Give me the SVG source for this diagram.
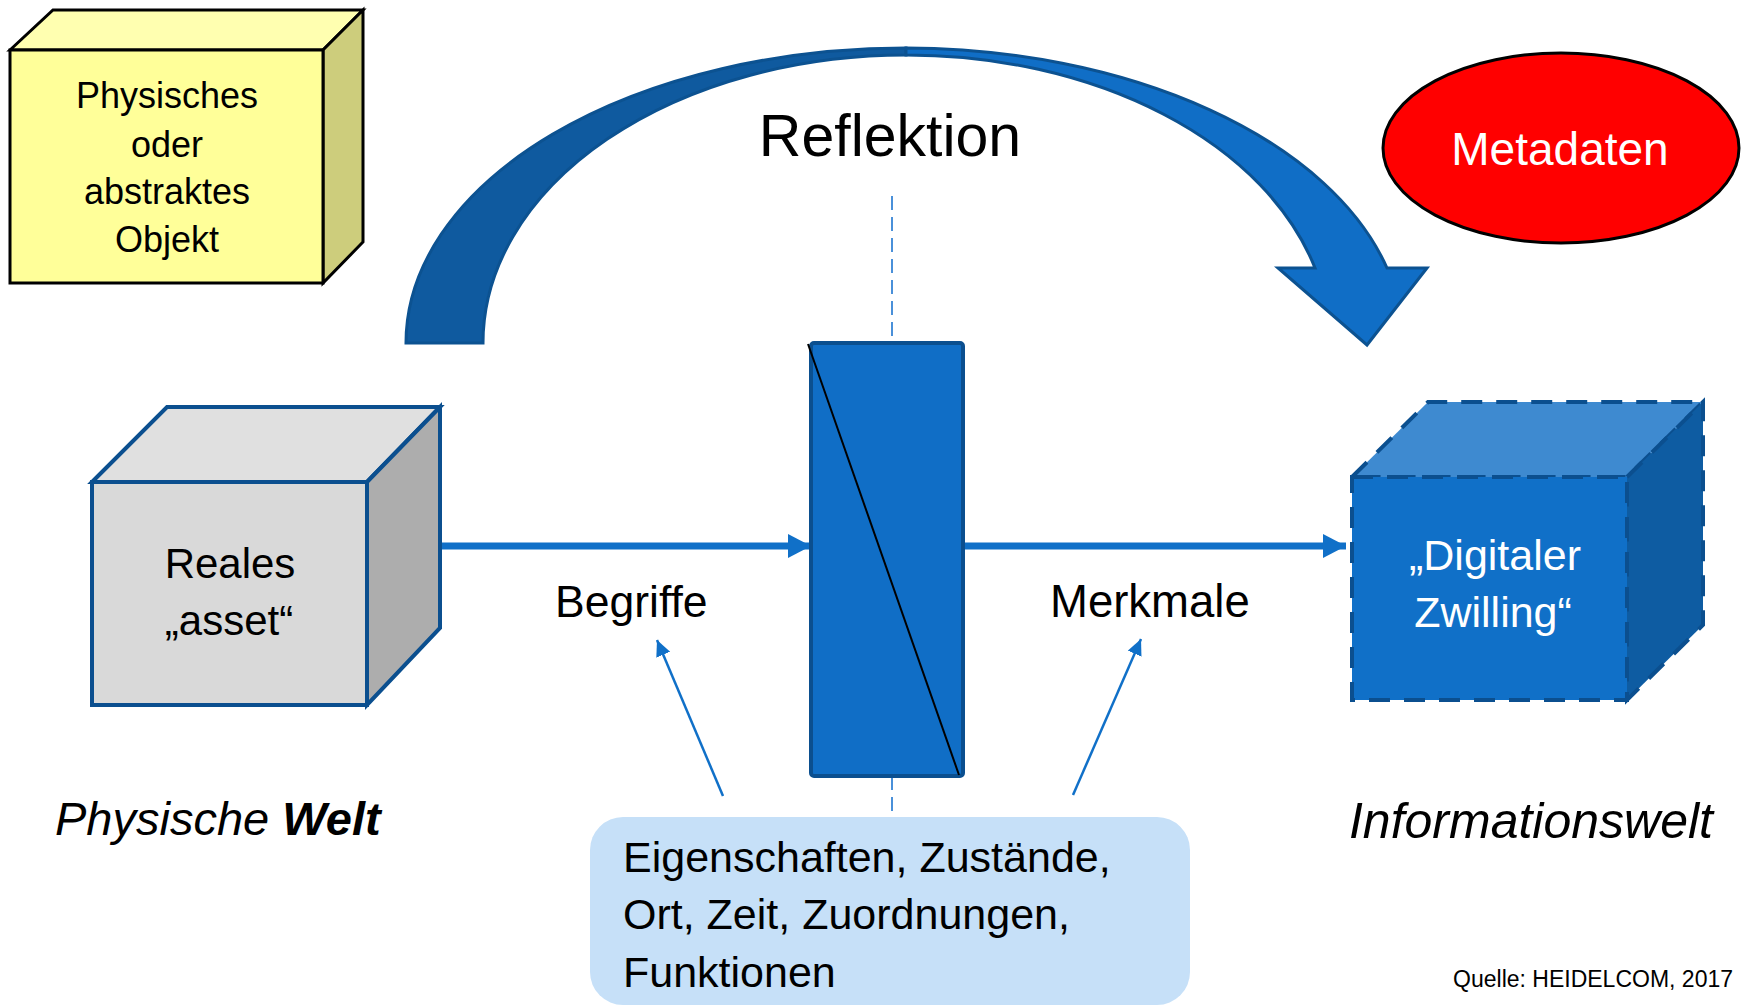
<svg xmlns="http://www.w3.org/2000/svg" width="1744" height="1007" viewBox="0 0 1744 1007">
  <style>
    text { font-family: "Liberation Sans", Arial, sans-serif; fill: #000; }
    .c { text-anchor: middle; }
    .w { fill: #fff; }
    .edge-blue { stroke: #0B4F8F; stroke-width: 4; stroke-linejoin: miter; }
    .edge-dash { stroke: #0B4F8F; stroke-width: 4; stroke-dasharray: 21 14; }
    .flow { stroke: #1070C8; stroke-width: 7; fill: none; }
    .hint { stroke: #1070C8; stroke-width: 2.5; fill: none; }
    .axis { stroke: #4A90D9; stroke-width: 2; stroke-dasharray: 14 7; fill: none; }
  </style>
  <defs>
    <marker id="headBig" markerUnits="userSpaceOnUse" markerWidth="24" markerHeight="26" refX="23" refY="12" orient="auto">
      <path d="M0,0 L23,12 L0,24 Z" fill="#1070C8"/>
    </marker>
    <marker id="headSmall" markerUnits="userSpaceOnUse" markerWidth="18" markerHeight="16" refX="16" refY="7.5" orient="auto">
      <path d="M0,0 L16,7.5 L0,15 Z" fill="#1070C8"/>
    </marker>
  </defs>

  <rect width="1744" height="1007" fill="#fff"/>

  <!-- Legend cube: physical or abstract object -->
  <g id="legend-object">
    <polygon points="10,50 53,10 363,10 323,50" fill="#FFFFB0" stroke="#000" stroke-width="3" stroke-linejoin="miter"/>
    <polygon points="323,50 363,10 363,242 323,283" fill="#CDCD7C" stroke="#000" stroke-width="3"/>
    <rect x="10" y="50" width="313" height="233" fill="#FFFF99" stroke="#000" stroke-width="3"/>
    <text class="c" x="167" y="108" font-size="36">Physisches</text>
    <text class="c" x="167" y="157" font-size="36">oder</text>
    <text class="c" x="167" y="204" font-size="36">abstraktes</text>
    <text class="c" x="167" y="252" font-size="36">Objekt</text>
  </g>

  <!-- Legend ellipse: metadata -->
  <g id="legend-metadata">
    <ellipse cx="1561" cy="148" rx="178" ry="95" fill="#FF0000" stroke="#000" stroke-width="3"/>
    <text class="c w" x="1560" y="165" font-size="46">Metadaten</text>
  </g>

  <!-- Curved reflection arrow -->
  <g id="reflection">
    <path d="M406,343 A500,295 0 0 1 906,48 L906,55 A423,288 0 0 0 483,343 Z" fill="#0F5A9F" stroke="#0C5291" stroke-width="3"/>
    <path d="M906,48 A500,295 0 0 1 1387,268 L1427,268 L1367,345 L1278,268 L1315,268 A423,288 0 0 0 906,55 Z" fill="#106EC6" stroke="#0C5291" stroke-width="3" stroke-linejoin="miter"/>
    <text class="c" x="890" y="156" font-size="59">Reflektion</text>
  </g>

  <!-- Connectors -->
  <g id="connectors">
    <line class="axis" x1="892" y1="196" x2="892" y2="343"/>
    <line class="axis" x1="892" y1="776" x2="892" y2="817"/>
    <line class="flow" x1="442" y1="546" x2="811" y2="546" marker-end="url(#headBig)"/>
    <line class="flow" x1="965" y1="546" x2="1346" y2="546" marker-end="url(#headBig)"/>
    <line class="hint" x1="723" y1="796" x2="657" y2="640" marker-end="url(#headSmall)"/>
    <line class="hint" x1="1073" y1="795" x2="1141" y2="639" marker-end="url(#headSmall)"/>
  </g>

  <!-- Real asset cube -->
  <g id="real-asset">
    <polygon points="92,482 167,407 440,407 367,482" fill="#E0E0E0" class="edge-blue"/>
    <polygon points="367,482 440,407 440,628 367,705" fill="#ADADAD" class="edge-blue"/>
    <rect x="92" y="482" width="275" height="223" fill="#D9D9D9" class="edge-blue"/>
    <text class="c" x="230" y="578" font-size="42">Reales</text>
    <text class="c" x="229" y="635" font-size="42">„asset“</text>
  </g>

  <!-- Mirror plane -->
  <g id="mirror">
    <rect x="811" y="343" width="152" height="433" rx="3" fill="#106EC6" stroke="#0B4F8F" stroke-width="4"/>
    <line x1="808" y1="344" x2="959" y2="775" stroke="#000" stroke-width="2"/>
  </g>

  <!-- Digital twin cube -->
  <g id="digital-twin">
    <polygon points="1352,477 1428,402 1703,402 1627,477" fill="#3E8AD0" class="edge-dash"/>
    <polygon points="1627,477 1703,402 1703,625 1627,700" fill="#0E5CA2" class="edge-dash"/>
    <rect x="1352" y="477" width="275" height="223" fill="#1070C8" class="edge-dash"/>
    <text class="c w" x="1495" y="570" font-size="43">„Digitaler</text>
    <text class="c w" x="1493" y="627" font-size="43">Zwilling“</text>
  </g>

  <!-- Labels on the flow -->
  <g id="label-begriffe">
    <text x="555" y="617" font-size="44.5">Begriffe</text>
  </g>
  <g id="label-merkmale">
    <text x="1050" y="617" font-size="45.5">Merkmale</text>
  </g>

  <!-- Attribute box -->
  <g id="attributes">
    <rect x="590" y="817" width="600" height="188" rx="33" fill="#C6E0F8"/>
    <text x="623" y="872" font-size="43">Eigenschaften, Zustände,</text>
    <text x="623" y="929" font-size="43">Ort, Zeit, Zuordnungen,</text>
    <text x="623" y="987" font-size="43">Funktionen</text>
  </g>

  <!-- World captions -->
  <g id="caption-physical">
    <text x="55" y="835" font-size="47" font-style="italic">Physische <tspan font-weight="bold">Welt</tspan></text>
  </g>
  <g id="caption-information">
    <text x="1713" y="838" font-size="50" font-style="italic" text-anchor="end">Informationswelt</text>
  </g>

  <g id="source">
    <text x="1733" y="987" font-size="23" text-anchor="end">Quelle: HEIDELCOM, 2017</text>
  </g>
</svg>
